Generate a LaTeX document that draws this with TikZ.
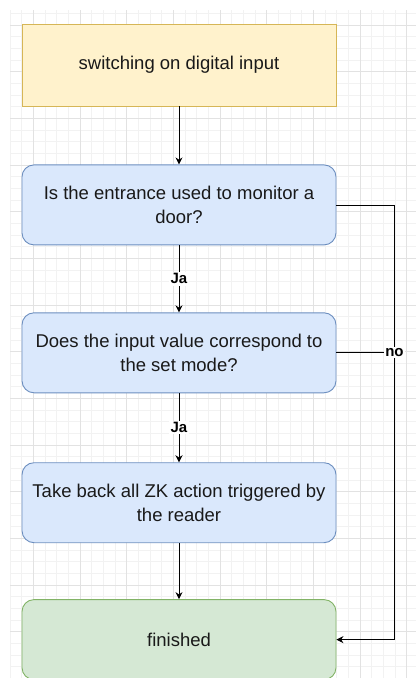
\documentclass[tikz,border=0pt]{standalone}
\usepackage{fontspec}
\setmainfont{Liberation Sans}
\usetikzlibrary{arrows.meta, positioning}
\definecolor{startfill}{HTML}{FFF2CC}
\definecolor{startline}{HTML}{D6B656}
\definecolor{stepfill}{HTML}{DAE8FC}
\definecolor{stepline}{HTML}{6C8EBF}
\definecolor{endfill}{HTML}{D5E8D4}
\definecolor{endline}{HTML}{82B366}
\definecolor{gridminor}{HTML}{F2F2F2}
\definecolor{gridmajor}{HTML}{E2E2E2}
\tikzset{
  block/.style={rectangle, draw=stepline, fill=stepfill, line width=0.9pt,
                minimum width=314pt, minimum height=80pt, inner sep=0pt,
                rounded corners=12pt, align=center, text=black!90,
                font=\fontsize{18.5}{24}\selectfont},
  startblock/.style={block, rounded corners=0pt, fill=startfill, draw=startline},
  endblock/.style={block, fill=endfill, draw=endline},
  arrow/.style={-{Stealth[length=7pt, width=7pt]}, line width=0.8pt},
  answer/.style={fill=white, inner sep=1.5pt, font=\bfseries\fontsize{15}{17}\selectfont},
}
\begin{document}
\begin{tikzpicture}[x=1pt, y=-1pt]
  \useasboundingbox (0,0) rectangle (416,678);
  % background grid
  \begin{scope}
    \clip (10,10) rectangle (416,678);
    \foreach \gx in {10,21.667,...,420} \draw[gridminor, line width=0.6pt] (\gx,10) -- (\gx,678);
    \foreach \gy in {13.333,25,...,680} \draw[gridminor, line width=0.6pt] (10,\gy) -- (416,\gy);
    \foreach \gx in {33.333,80,...,420} \draw[gridmajor, line width=0.6pt] (\gx,10) -- (\gx,678);
    \foreach \gy in {25,71.667,...,680} \draw[gridmajor, line width=0.6pt] (10,\gy) -- (416,\gy);
  \end{scope}

  \node[startblock, minimum height=82pt] (start) at (179,65) {switching on digital input};
  \node[block, below=58pt of start] (door) {Is the entrance used to monitor a\\door?};
  \node[block, below=67pt of door] (mode) {Does the input value correspond to\\the set mode?};
  \node[block, below=69pt of mode] (undo) {Take back all ZK action triggered by\\the reader};
  \node[endblock, below=56pt of undo] (done) {finished};
  \coordinate (turn) at ([xshift=58pt]door.east);

  \draw[arrow] (start) -- (door);
  \draw[arrow] (door) -- node[answer] {Ja} (mode);
  \draw[arrow] (mode) -- node[answer] {Ja} (undo);
  \draw[arrow] (undo) -- (done);
  \draw[arrow] (door.east) -- (turn) |- (done.east);
  \draw[line width=0.9pt] (mode.east) -- (mode.east -| turn) node[answer] {no};
\end{tikzpicture}
\end{document}
